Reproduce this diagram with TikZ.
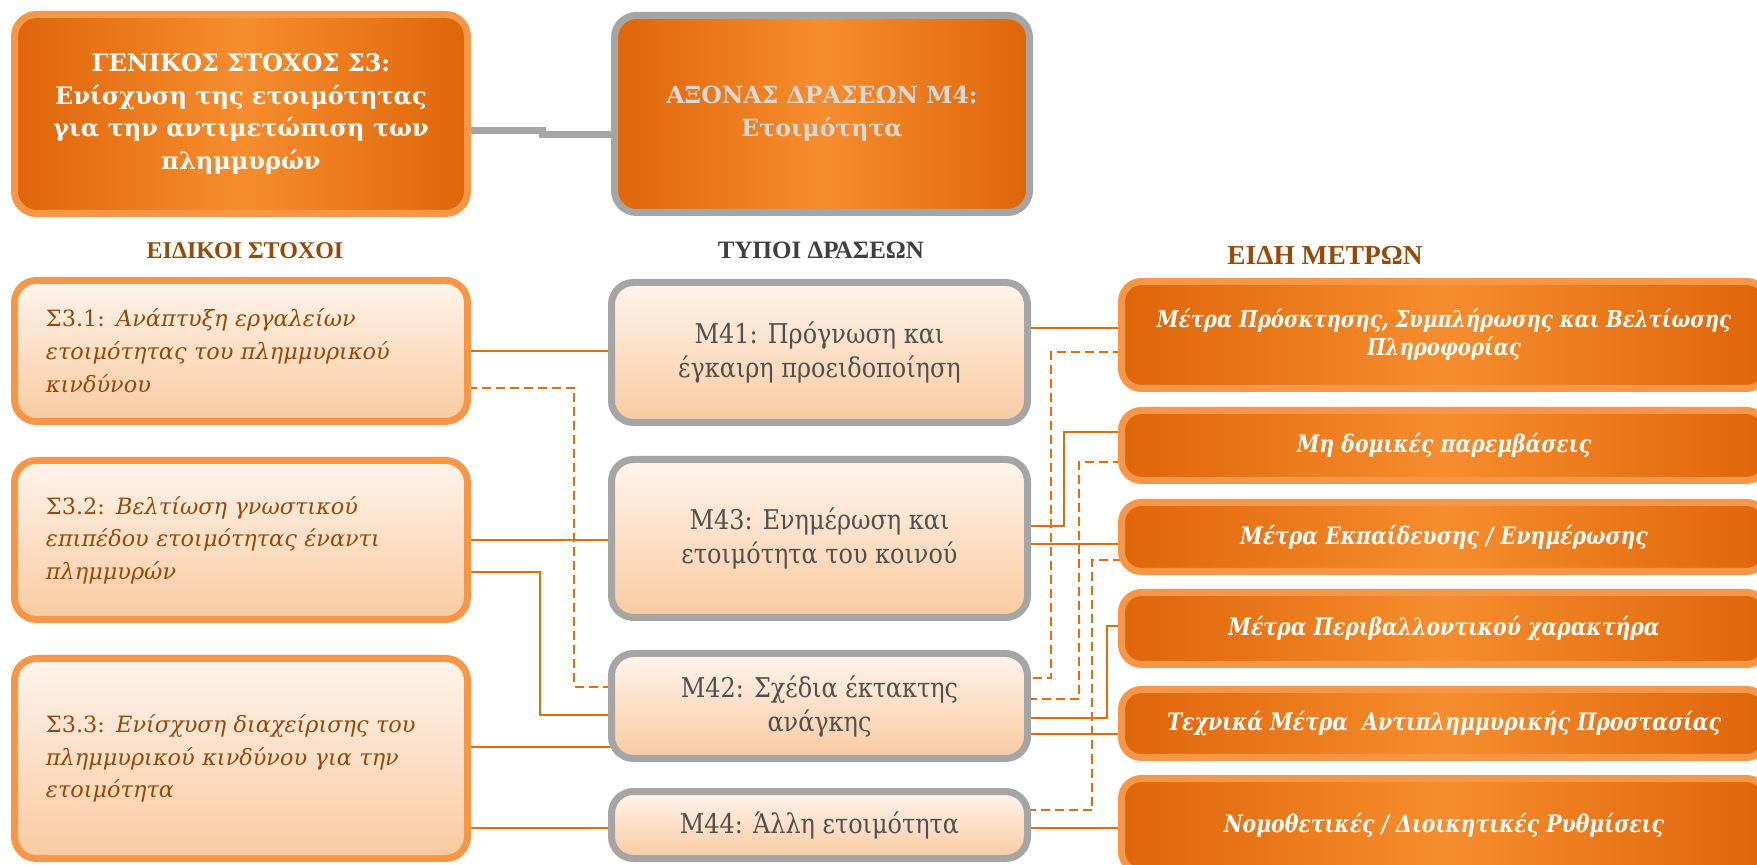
\documentclass[tikz,border=0pt]{standalone}
\usepackage{fontspec}
\setmainfont{DejaVu Serif}
\newfontfamily\headfont{Liberation Serif}
\newfontfamily\narrowserif[FakeStretch=0.88]{DejaVu Serif}
\newfontfamily\measfont[FakeStretch=0.85]{DejaVu Serif}
\usepackage{xcolor}
\usetikzlibrary{positioning, backgrounds}

\definecolor{orangeDark}{HTML}{DF6509}
\definecolor{orangeLight}{HTML}{F68D2E}
\definecolor{orangeEdge}{HTML}{F79646}
\definecolor{greyEdge}{HTML}{A5A5A5}
\definecolor{peachTop}{HTML}{FEF4EC}
\definecolor{peachBottom}{HTML}{F9CAA0}
\definecolor{linkOrange}{HTML}{E46C0A}
\definecolor{brownText}{HTML}{984807}
\definecolor{greyText}{HTML}{404040}
\definecolor{actText}{HTML}{505050}
\definecolor{axisText}{HTML}{D9D9D9}

\begin{document}
\begin{tikzpicture}[x=0.5pt, y=-0.5pt, node distance=19.5pt,
    goalbox/.style={rectangle, rounded corners=11pt, draw=orangeEdge, line width=3.5pt, outer sep=0pt, inner sep=0pt, left color=orangeDark, right color=orangeDark, middle color=orangeLight, align=center},
    aimbox/.style={rectangle, rounded corners=11pt, draw=orangeEdge, line width=3.5pt, outer sep=0pt, top color=peachTop, bottom color=peachBottom, text=brownText, text width=195pt, inner xsep=15.75pt, align=left, font=\fontsize{11.2}{16.3}\selectfont},
    actbox/.style={rectangle, rounded corners=11pt, draw=greyEdge, line width=3.5pt, outer sep=0pt, inner sep=0pt, top color=peachTop, bottom color=peachBottom, text=actText, minimum width=208pt, align=center, font=\narrowserif\fontsize{13.6}{17}\selectfont},
    measbox/.style={goalbox, rounded corners=10pt, minimum width=322.5pt, text=white, font=\measfont\bfseries\itshape\fontsize{12}{14.5}\selectfont},
    colhead/.style={font=\headfont\bfseries\fontsize{12}{14}\selectfont},
    solidlink/.style={draw=linkOrange, line width=1.4pt},
    dashlink/.style={solidlink, dash pattern=on 4.5pt off 2.5pt}]

    \useasboundingbox (0,0) rectangle (1757,865);

    % top row
    \node[goalbox, minimum width=226.5pt, minimum height=99.5pt, text=white, font=\bfseries\fontsize{12}{16.3}\selectfont] (gs) at (241,114) {ΓΕΝΙΚΟΣ ΣΤΟΧΟΣ Σ3:\\ Ενίσχυση της ετοιμότητας\\ για την αντιμετώπιση των\\ πλημμυρών};
    \node[goalbox, draw=greyEdge, minimum width=207.5pt, minimum height=98.5pt, text=axisText, font=\bfseries\fontsize{11.8}{16.3}\selectfont] (ax) at (822,114) {ΑΞΟΝΑΣ ΔΡΑΣΕΩΝ Μ4:\\ Ετοιμότητα};

    % column titles
    \node[colhead, text=brownText] (hAims) at (245,251) {ΕΙΔΙΚΟΙ ΣΤΟΧΟΙ};
    \node[colhead, text=greyText, font=\headfont\bfseries\fontsize{12.5}{14}\selectfont] (hActs) at (821,250) {ΤΥΠΟΙ ΔΡΑΣΕΩΝ};
    \node[colhead, text=brownText, font=\headfont\bfseries\fontsize{13.7}{15}\selectfont] (hMeas) at (1325,255) {ΕΙΔΗ ΜΕΤΡΩΝ};

    % specific objectives
    \node[aimbox, minimum height=70.5pt] (s31) at (241,351) {Σ3.1: \itshape Ανάπτυξη εργαλείων\\ ετοιμότητας του πλημμυρικού\\ κινδύνου};
    \node[aimbox, minimum height=79.5pt, below=of s31] (s32) {Σ3.2: \itshape Βελτίωση γνωστικού\\ επιπέδου ετοιμότητας έναντι\\ πλημμυρών};
    \node[aimbox, minimum height=100pt, below=of s32] (s33) {Σ3.3: \itshape Ενίσχυση διαχείρισης του\\ πλημμυρικού κινδύνου για την\\ ετοιμότητα};

    % action types
    \node[actbox, minimum height=70pt] (m41) at (819.5,352.5) {Μ41: Πρόγνωση και\\ έγκαιρη προειδοποίηση};
    \node[actbox, minimum height=79pt, below=18.5pt of m41] (m43) {Μ43: Ενημέρωση και\\ ετοιμότητα του κοινού};
    \node[actbox, minimum height=52.5pt, below=18pt of m43] (m42) {Μ42: Σχέδια έκτακτης\\ ανάγκης};
    \node[actbox, minimum height=33.5pt, below=16.5pt of m42] (m44) {Μ44: Άλλη ετοιμότητα};

    % kinds of measures
    \node[measbox, minimum height=53.5pt, font=\measfont\bfseries\itshape\fontsize{11.6}{14}\selectfont] (b1) at (1444,335) {Μέτρα Πρόσκτησης, Συμπλήρωσης και Βελτίωσης\\ Πληροφορίας};
    \node[measbox, minimum height=35pt, below=11pt of b1] (b2) {Μη δομικές παρεμβάσεις};
    \node[measbox, minimum height=34.5pt, below=11pt of b2] (b3) {Μέτρα Εκπαίδευσης / Ενημέρωσης};
    \node[measbox, minimum height=36pt, below=10.5pt of b3] (b4) {Μέτρα Περιβαλλοντικού χαρακτήρα};
    \node[measbox, minimum height=34pt, below=12.5pt of b4] (b5) {Τεχνικά Μέτρα \ Αντιπλημμυρικής Προστασίας};
    \node[measbox, minimum height=46.5pt, below=10.5pt of b5] (b6) {Νομοθετικές / Διοικητικές Ρυθμίσεις};

    \begin{pgfonlayer}{background}
    \fill[white] (0,0) rectangle (1757,865);
    \draw[draw=greyEdge, line width=3.5pt] (gs.east |- 0,131) -| (542,135) -- (ax.west |- 0,135);
    % objectives to actions
    \draw[solidlink] (s31.east |- 0,351) -- (m41.west |- 0,351);
    \draw[dashlink] (s31.east |- 0,388) -| (574,687) -- (m42.west |- 0,687);
    \draw[solidlink] (s32.east |- 0,540) -- (m43.west |- 0,540);
    \draw[solidlink] (s32.east |- 0,572) -| (540,715) -- (m42.west |- 0,715);
    \draw[solidlink] (s33.east |- 0,747) -- (m42.west |- 0,747);
    \draw[solidlink] (s33.east |- 0,828) -- (m44.west |- 0,828);
    % actions to measures
    \draw[solidlink] (m41.east |- 0,328) -- (b1.west |- 0,328);
    \draw[dashlink] (b1.west |- 0,352) -| (1051,678) -- (m42.east |- 0,678);
    \draw[solidlink] (m43.east |- 0,526) -| (1064,432) -- (b2.west |- 0,432);
    \draw[dashlink] (b2.west |- 0,462) -| (1079,699) -- (m42.east |- 0,699);
    \draw[solidlink] (m43.east |- 0,544) -- (b3.west |- 0,544);
    \draw[dashlink] (b3.west |- 0,560) -| (1092,810) -- (m44.east |- 0,810);
    \draw[solidlink] (b4.west |- 0,626) -| (1107,718) -- (m42.east |- 0,718);
    \draw[solidlink] (m42.east |- 0,734) -- (b5.west |- 0,734);
    \draw[solidlink] (m44.east |- 0,828) -- (b6.west |- 0,828);
    \end{pgfonlayer}
\end{tikzpicture}
\end{document}
